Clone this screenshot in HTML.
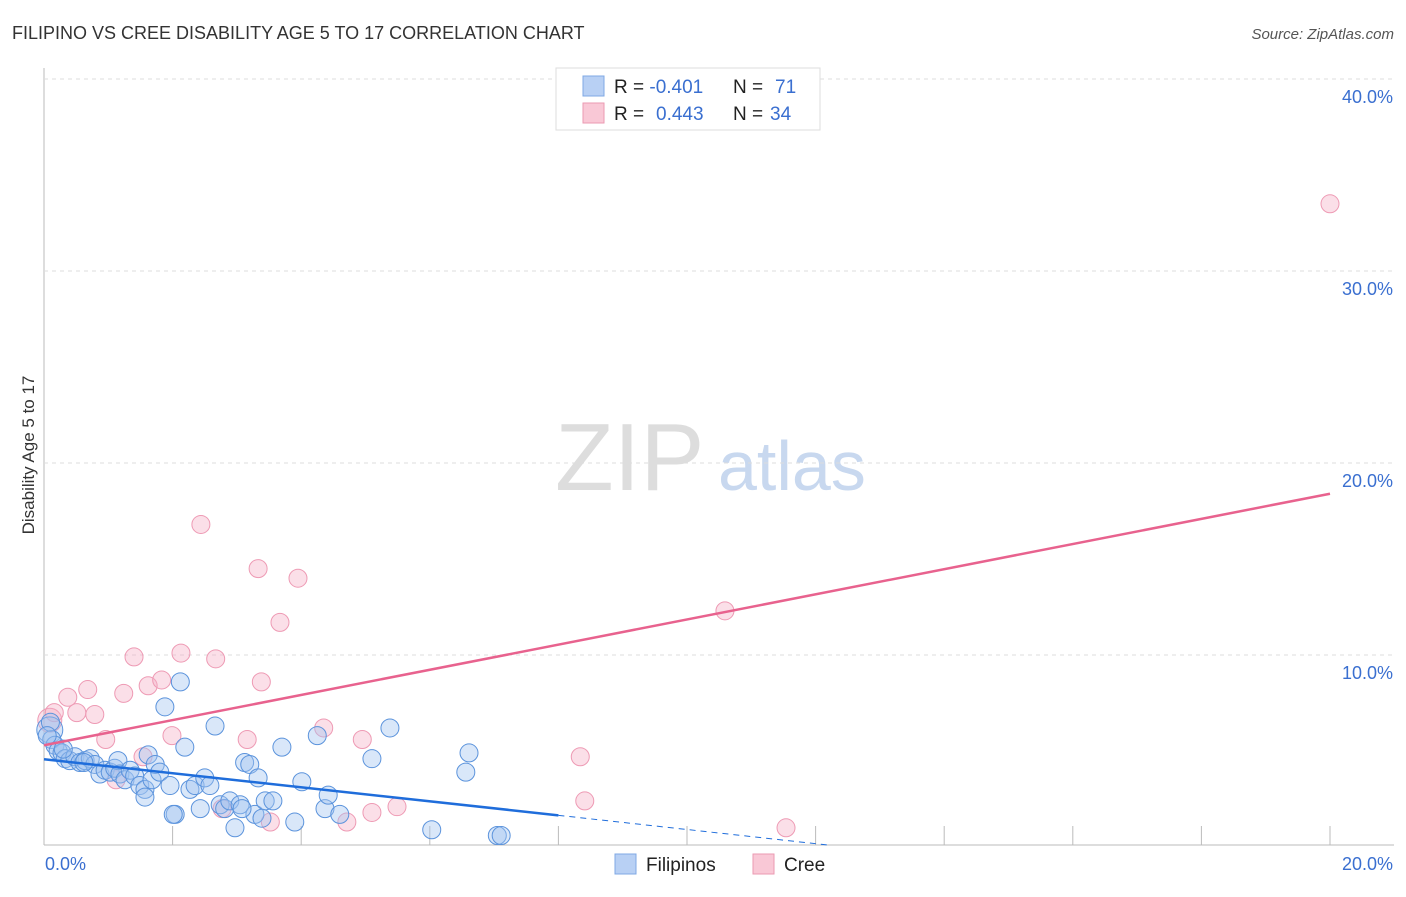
<!DOCTYPE html>
<html><head><meta charset="utf-8"><style>
body{margin:0;background:#fff;font-family:"Liberation Sans",sans-serif;}
svg text{font-family:"Liberation Sans",sans-serif;}
</style></head><body>
<svg id="chart" width="1406" height="892">
<text x="12" y="39" font-size="18" fill="#333">FILIPINO VS CREE DISABILITY AGE 5 TO 17 CORRELATION CHART</text>
<text x="1394" y="39" font-size="15" fill="#555" font-style="italic" text-anchor="end">Source: ZipAtlas.com</text>
<text x="34" y="455" font-size="17" fill="#333" transform="rotate(-90 34 455)" text-anchor="middle">Disability Age 5 to 17</text>
<g><text x="555" y="490" font-size="96" fill="#ddd" font-family="Liberation Serif,serif">ZIP</text><text x="718" y="490" font-size="70" fill="#c8d8ef">atlas</text></g>
<g id="grid"></g><g id="pts"></g><g id="lines"></g>
<g>
<rect x="556" y="68" width="264" height="62" fill="#fff" stroke="#ddd"/>
<rect x="583" y="76" width="21" height="20" fill="#b8d0f4" stroke="#7fa8e4"/>
<rect x="583" y="103" width="21" height="20" fill="#f9c8d6" stroke="#eb9ab2"/>
<text x="614" y="93" font-size="19" fill="#222">R = <tspan fill="#3a6fd0">-0.401</tspan><tspan x="733">N = </tspan><tspan fill="#3a6fd0" x="775">71</tspan></text>
<text x="614" y="120" font-size="19" fill="#222">R = <tspan fill="#3a6fd0" x="656">0.443</tspan><tspan x="733">N = </tspan><tspan fill="#3a6fd0" x="770">34</tspan></text>
</g>
<g>
<rect x="615" y="854" width="21" height="20" fill="#b8d0f4" stroke="#7fa8e4"/>
<text x="646" y="871" font-size="19" fill="#222">Filipinos</text>
<rect x="753" y="854" width="21" height="20" fill="#f9c8d6" stroke="#eb9ab2"/>
<text x="784" y="871" font-size="19" fill="#222">Cree</text>
</g>
</svg>
<script>
const blueX=[0.09,0.12,0.17,0.22,0.28,0.33,0.40,0.48,0.56,0.64,0.72,0.79,0.87,0.95,1.03,1.10,1.15,1.18,1.26,1.34,1.41,1.49,1.57,1.62,1.68,1.73,1.80,1.88,1.96,2.04,2.12,2.19,2.27,2.35,2.43,2.50,2.58,2.66,2.74,2.81,2.89,2.97,3.05,3.12,3.20,3.28,3.33,3.44,3.56,3.70,3.90,4.01,4.25,4.37,4.42,4.60,5.10,5.38,6.03,6.56,6.61,7.05,7.11,2.01,1.57,3.08,3.39,0.10,0.05,0.30,0.62];
const blueY=[6.1,5.6,5.3,5.0,4.9,4.6,4.5,4.7,4.4,4.5,4.6,4.3,3.8,4.0,3.9,4.1,4.5,3.8,3.5,4.0,3.7,3.2,3.0,4.8,3.5,4.3,3.9,7.3,3.2,1.7,8.6,5.2,3.0,3.2,2.0,3.6,3.2,6.3,2.2,2.0,2.4,1.0,2.2,4.4,4.3,1.7,3.6,2.4,2.4,5.2,1.3,3.4,5.8,2.0,2.7,1.7,4.6,6.2,0.9,3.9,4.9,0.6,0.6,1.7,2.6,2.0,1.5,6.5,5.8,5.1,4.4];
const pinkX=[0.09,0.16,0.37,0.51,0.68,0.79,0.96,1.12,1.24,1.40,1.54,1.62,1.83,1.99,2.13,2.44,2.67,2.77,3.16,3.33,3.38,3.52,3.67,3.95,4.35,4.71,4.95,5.10,5.49,8.34,8.41,10.59,11.54,20.0];
const pinkY=[6.6,7.0,7.8,7.0,8.2,6.9,5.6,3.5,8.0,9.9,4.7,8.4,8.7,5.8,10.1,16.8,9.8,2.0,5.6,14.5,8.6,1.3,11.7,14.0,6.2,1.3,5.6,1.8,2.1,4.7,2.4,12.3,1.0,33.5];
const regBlue=[[0,4.57],[8,1.65]];
const regBlueDash=[[8,1.65],[12.2,0.1]];
const regPink=[[0,5.3],[20,18.4]];
const yTicks=[10,20,30,40];
const xTicks=[0,2,4,6,8,10,12,14,16,18,20];
const NS='http://www.w3.org/2000/svg';
const X=v=>44+v*64.3, Y=v=>847-v*19.2;
function mk(tag,attrs,parent){const e=document.createElementNS(NS,tag);for(const k in attrs)e.setAttribute(k,attrs[k]);parent.appendChild(e);return e;}
const grid=document.getElementById('grid');
let ax=mk('line',{x1:44,y1:68,x2:44,y2:845,stroke:'#bbb'},grid);


let bx=mk('line',{x1:44,y1:845,x2:1394,y2:845,stroke:'#bbb'},grid);


yTicks.forEach(t=>{
 const g=mk('line',{x1:44,y1:Y(t),x2:1394,y2:Y(t),stroke:'#ddd','stroke-dasharray':'4,4'},grid);
 
 
 const l=mk('text',{x:1393,y:Y(t)+24,'font-size':18,fill:'#3a6fd0','text-anchor':'end'},grid);l.textContent=t.toFixed(1)+'%';
 
 
});
xTicks.forEach(t=>{
 if(t>0){const k=mk('line',{x1:X(t),y1:826,x2:X(t),y2:845,stroke:'#bbb'},grid);
 
 }
});
[[0,'start',45],[20,'end',1393]].forEach(([t,a,x])=>{
 const l=mk('text',{x:x,y:870,'font-size':18,fill:'#3a6fd0','text-anchor':a},grid);l.textContent=t.toFixed(1)+'%';
 
 
});
const pts=document.getElementById('pts');
pinkX.forEach((v,i)=>{const c=mk('circle',{cx:X(v),cy:Y(pinkY[i]),r:i==0?12:9,fill:'rgba(246,176,198,0.4)',stroke:'#ee9ab4','stroke-width':1},pts);
 
 });
blueX.forEach((v,i)=>{const c=mk('circle',{cx:X(v),cy:Y(blueY[i]),r:i==0?13:9,fill:'rgba(160,196,240,0.4)',stroke:'#5b93dc','stroke-width':1},pts);
 
 });
const lines=document.getElementById('lines');
function ln(p,col,w,dash,name){const e=mk('line',{x1:X(p[0][0]),y1:Y(p[0][1]),x2:X(p[1][0]),y2:Y(p[1][1]),stroke:col,'stroke-width':w},lines);if(dash)e.setAttribute('stroke-dasharray',dash);
 
 }
ln(regPink,'#e8628e',2.5,null,'trendline-cree');
ln(regBlue,'#1f6ddb',2.5,null,'trendline-filipinos');
ln(regBlueDash,'#1f6ddb',1,'6,5','trendline-filipinos-extension');
</script>
</body></html>
